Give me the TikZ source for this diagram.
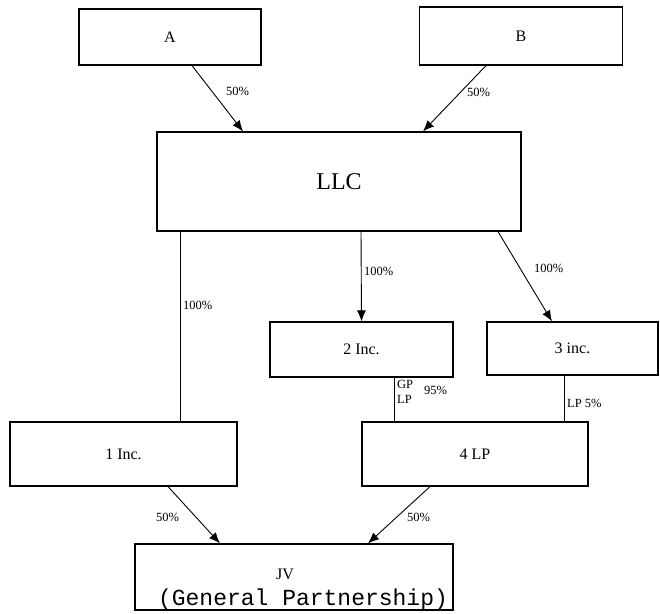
\documentclass[tikz,border=0pt]{standalone}
\usepackage{fontspec}
\setmainfont{Liberation Serif}
\newfontfamily\monofnt{Liberation Mono}
\usetikzlibrary{arrows.meta}
\begin{document}
\begin{tikzpicture}[x=1pt,y=-1pt,
  ent/.style={draw,line width=1.2pt,rectangle,inner sep=0pt,font=\fontsize{16}{18}\selectfont},
  own/.style={line width=0.9pt,-{Latex[length=11pt,width=9pt]}},
  link/.style={line width=0.9pt},
  pct/.style={font=\fontsize{12.5}{14}\selectfont,inner sep=0pt,anchor=west},
  txt/.style={inner sep=0pt}]
\useasboundingbox (0,0) rectangle (660,613);
% boxes
\node[ent,minimum width=182pt,minimum height=56pt] (A) at (170,37) {A};
\node[ent,minimum width=203pt,minimum height=58pt] (B) at (521,36) {B};
\node[ent,minimum width=364pt,minimum height=99pt,font=\fontsize{24}{28}\selectfont] (LLC) at (339,181.5) {LLC};
\node[ent,minimum width=183pt,minimum height=55pt] (I2) at (361.5,349.5) {2 Inc.};
\node[ent,minimum width=171pt,minimum height=53pt] (I3) at (572.5,348.5) {3 inc.};
\node[ent,minimum width=227pt,minimum height=64pt] (I1) at (123.5,454) {1 Inc.};
\node[ent,minimum width=226pt,minimum height=64pt] (LP) at (475,454) {4 LP};
\node[ent,minimum width=318pt,minimum height=66pt] (JV) at (294,577) {};
\node[txt,font=\fontsize{16}{18}\selectfont] (JVa) at (285,574) {JV};
\node[txt,font=\monofnt\fontsize{23}{24}\selectfont,anchor=base] (JVb) at (303,605) {(General Partnership)};
% connectors
\coordinate (a1) at (192,65); \coordinate (a2) at (243,132);
\draw[own] (A.south west -| a1) -- (LLC.north west -| a2);
\coordinate (b1) at (486,65); \coordinate (b2) at (423,132);
\draw[own] (B.south west -| b1) -- (LLC.north west -| b2);
\coordinate (c1) at (361,231);
\draw[own] (LLC.south west -| c1) -- (I2.north);
\coordinate (d1) at (498,231); \coordinate (d2) at (552,322);
\draw[own] (LLC.south west -| d1) -- (I3.north west -| d2);
\coordinate (e1) at (180,231);
\draw[link] (LLC.south west -| e1) -- (I1.north west -| e1);
\coordinate (f1) at (394,377);
\draw[link] (I2.south west -| f1) -- (LP.north west -| f1);
\coordinate (g1) at (564,375);
\draw[link] (I3.south west -| g1) -- (LP.north west -| g1);
\coordinate (h1) at (168,486); \coordinate (h2) at (220,544);
\draw[own] (I1.south west -| h1) -- (JV.north west -| h2);
\coordinate (k1) at (430,486); \coordinate (k2) at (368,544);
\draw[own] (LP.south west -| k1) -- (JV.north west -| k2);
% labels
\node[pct] (la) at (226,91) {50\%};
\node[pct] (lb) at (467,92) {50\%};
\node[pct] (lc) at (364,271) {100\%};
\node[pct] (ld) at (534,268) {100\%};
\node[pct] (le) at (183,305) {100\%};
\node[pct,align=left,font=\fontsize{12.5}{15}\selectfont] (lf) at (397,392) {GP\\LP};
\node[pct] (lf2) at (424,390) {95\%};
\node[pct] (lg) at (567,403) {LP 5\%};
\node[pct] (lh) at (156,517) {50\%};
\node[pct] (lk) at (407,517) {50\%};
\end{tikzpicture}
\end{document}
